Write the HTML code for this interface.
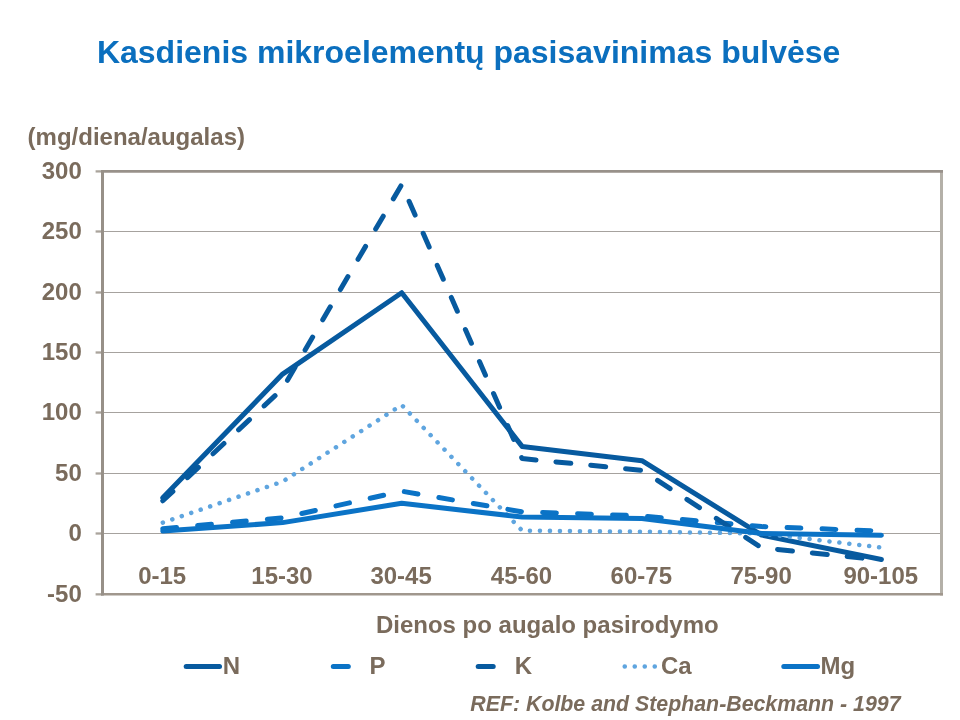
<!DOCTYPE html>
<html><head><meta charset="utf-8"><title>Kasdienis mikroelementų pasisavinimas bulvėse</title>
<style>
html,body{margin:0;padding:0;background:#fff;}
body{width:960px;height:720px;overflow:hidden;font-family:"Liberation Sans",sans-serif;}
svg{display:block;position:absolute;left:0;top:0;will-change:transform;filter:blur(0.35px);}
text{font-family:"Liberation Sans",sans-serif;font-weight:bold;}
.t{fill:#7a6b5c;font-size:24px;}
</style></head><body>
<svg width="960" height="720" viewBox="0 0 960 720">
<rect x="0" y="0" width="960" height="720" fill="#ffffff"/>
<text x="96.9" y="63" font-size="32" fill="#0b6fbe">Kasdienis mikroelementų pasisavinimas bulvėse</text>
<text class="t" x="27.6" y="144.6">(mg/diena/augalas)</text>

<line x1="102.5" y1="231.50" x2="941.5" y2="231.50" stroke="#a6a29e" stroke-width="1"/>
<line x1="102.5" y1="292.50" x2="941.5" y2="292.50" stroke="#a6a29e" stroke-width="1"/>
<line x1="102.5" y1="352.50" x2="941.5" y2="352.50" stroke="#a6a29e" stroke-width="1"/>
<line x1="102.5" y1="412.50" x2="941.5" y2="412.50" stroke="#a6a29e" stroke-width="1"/>
<line x1="102.5" y1="473.50" x2="941.5" y2="473.50" stroke="#a6a29e" stroke-width="1"/>
<line x1="102.5" y1="533.50" x2="941.5" y2="533.50" stroke="#a6a29e" stroke-width="1"/>
<line x1="95.6" y1="171.40" x2="102.5" y2="171.40" stroke="#aaa49c" stroke-width="2.3"/>
<text class="t" x="81.8" y="178.90" text-anchor="end">300</text>
<line x1="95.6" y1="231.50" x2="102.5" y2="231.50" stroke="#aaa49c" stroke-width="2.3"/>
<text class="t" x="81.8" y="239.00" text-anchor="end">250</text>
<line x1="95.6" y1="292.50" x2="102.5" y2="292.50" stroke="#aaa49c" stroke-width="2.3"/>
<text class="t" x="81.8" y="300.00" text-anchor="end">200</text>
<line x1="95.6" y1="352.50" x2="102.5" y2="352.50" stroke="#aaa49c" stroke-width="2.3"/>
<text class="t" x="81.8" y="360.00" text-anchor="end">150</text>
<line x1="95.6" y1="412.50" x2="102.5" y2="412.50" stroke="#aaa49c" stroke-width="2.3"/>
<text class="t" x="81.8" y="420.00" text-anchor="end">100</text>
<line x1="95.6" y1="473.50" x2="102.5" y2="473.50" stroke="#aaa49c" stroke-width="2.3"/>
<text class="t" x="81.8" y="481.00" text-anchor="end">50</text>
<line x1="95.6" y1="533.50" x2="102.5" y2="533.50" stroke="#aaa49c" stroke-width="2.3"/>
<text class="t" x="81.8" y="541.00" text-anchor="end">0</text>
<line x1="95.6" y1="594.35" x2="102.5" y2="594.35" stroke="#aaa49c" stroke-width="2.3"/>
<text class="t" x="81.8" y="601.85" text-anchor="end">-50</text>
<line x1="941.5" y1="170.0" x2="941.5" y2="595.6" stroke="#b4b0a8" stroke-width="3"/>
<line x1="101.0" y1="171.4" x2="943.0" y2="171.4" stroke="#98918a" stroke-width="2.8"/>
<line x1="101.0" y1="594.35" x2="943.0" y2="594.35" stroke="#a0978d" stroke-width="2.5"/>
<line x1="102.5" y1="170.0" x2="102.5" y2="595.6" stroke="#979088" stroke-width="3"/>
<text class="t" x="162.2" y="584" text-anchor="middle">0-15</text>
<text class="t" x="282.0" y="584" text-anchor="middle">15-30</text>
<text class="t" x="401.1" y="584" text-anchor="middle">30-45</text>
<text class="t" x="521.5" y="584" text-anchor="middle">45-60</text>
<text class="t" x="641.3" y="584" text-anchor="middle">60-75</text>
<text class="t" x="761.1" y="584" text-anchor="middle">75-90</text>
<text class="t" x="880.8" y="584" text-anchor="middle">90-105</text>
<g fill="none" stroke-linecap="round" stroke-linejoin="round" stroke-width="5.0">
<polyline points="162.8,497.8 282.6,374.1 401.7,292.7 522.1,446.4 641.9,460.7 761.7,535.1 881.4,559.5" stroke="#075a9f"/>
<polyline points="162.8,528.7 282.6,517.8 401.7,491.2 522.1,511.8 641.9,515.9 761.7,526.6 881.4,531.1" stroke="#0b73c6" stroke-dasharray="13.8 21.2"/>
<polyline points="162.8,500.8 282.6,388.6 401.7,184.5 522.1,458.6 641.9,470.3 761.7,547.8 881.4,560.1" stroke="#075a9f" stroke-dasharray="15 20" stroke-dashoffset="1.2"/>
<polyline points="162.8,522.6 282.6,481.6 401.7,405.0 522.1,530.6 641.9,531.7 761.7,533.5 881.4,547.5" stroke="#5fa5df" stroke-width="4.5" stroke-dasharray="0.1 9.9"/>
<polyline points="162.8,531.1 282.6,522.6 401.7,503.3 522.1,517.0 641.9,518.4 761.7,533.5 881.4,535.3" stroke="#0b73c6"/>
</g>
<text class="t" x="547.3" y="633.4" text-anchor="middle">Dienos po augalo pasirodymo</text>
<g fill="none" stroke-linecap="round" stroke-width="5.0">
<line x1="186.2" y1="666.4" x2="219.5" y2="666.4" stroke="#075a9f"/>
<line x1="333.3" y1="666.4" x2="367" y2="666.4" stroke="#0b73c6" stroke-dasharray="15 20"/>
<line x1="478.2" y1="666.4" x2="512" y2="666.4" stroke="#075a9f" stroke-dasharray="15 20"/>
<line x1="624.7" y1="666.4" x2="658.7" y2="666.4" stroke="#5fa5df" stroke-width="4.5" stroke-dasharray="0.1 9.9"/>
<line x1="783.8" y1="666.4" x2="817.5" y2="666.4" stroke="#0b73c6"/>
</g>
<text class="t" x="222.8" y="673.5">N</text>
<text class="t" x="369.5" y="673.5">P</text>
<text class="t" x="514.8" y="673.5">K</text>
<text class="t" x="661" y="673.5">Ca</text>
<text class="t" x="820.6" y="673.5">Mg</text>
<text x="470.3" y="710.5" font-size="21.33" font-style="italic" fill="#7a6b5c">REF: Kolbe and Stephan-Beckmann - 1997</text>
</svg></body></html>
